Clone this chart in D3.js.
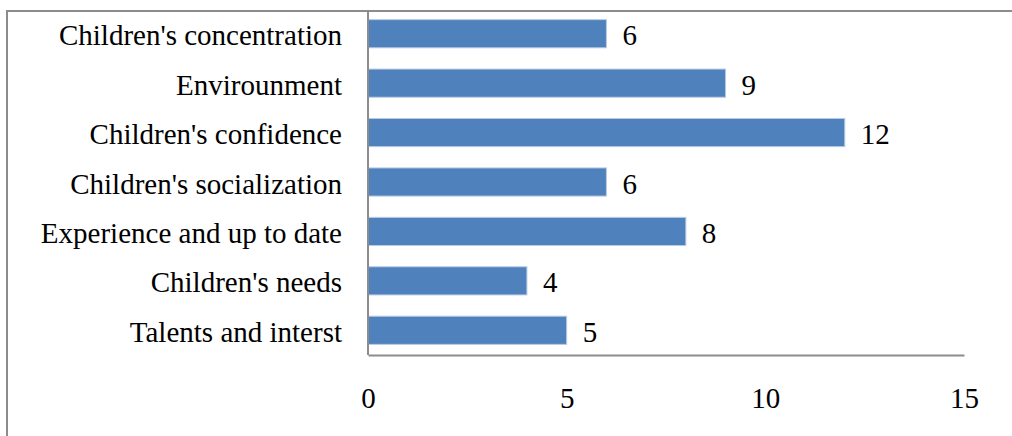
<!DOCTYPE html>
<html>
<head>
<meta charset="utf-8">
<script src="https://cdn.jsdelivr.net/npm/d3@7"></script>
<style>
  body { margin: 0; background: #fff; }
  svg { display: block; }
</style>
</head>
<body>
<div id="graph"></div>
<script>
var categories = ["Children's concentration", "Envirounment", "Children's confidence",
  "Children's socialization", "Experience and up to date", "Children's needs", "Talents and interst"];
var values = [6, 9, 12, 6, 8, 4, 5];
var xTicks = [0, 5, 10, 15];

var W = 1012, H = 436;
var serif = "'Liberation Serif', 'Times New Roman', Times, serif";
// plot area (note: "top" is taken by window.top, so use other names)
var plotLeft = 368, plotRight = 964, plotTop = 9, plotBottom = 355;

var vis = d3.select("#graph")
  .append("svg")
  .attr("width", W).attr("height", H);

// outer frame, only the top and left edges are in view
vis.append("rect")
  .attr("x", 7).attr("y", 11)
  .attr("width", W + 20).attr("height", H + 20)
  .attr("fill", "none")
  .attr("stroke", "#8c8c8c")
  .attr("stroke-width", 2);

var x = d3.scaleLinear().domain([0, 15]).range([plotLeft, plotRight]);
var y = d3.scaleBand().domain(categories).range([plotTop, plotBottom]).paddingInner(0.43).paddingOuter(0.215);

vis.selectAll("rect.bar")
  .data(values)
  .enter()
  .append("rect")
  .attr("class", "bar")
  .attr("x", x(0))
  .attr("y", function(d, i) { return y(categories[i]); })
  .attr("width", function(d) { return x(d) - x(0); })
  .attr("height", y.bandwidth())
  .attr("fill", "#4f81bd")
  .attr("stroke", "#b9cce4")
  .attr("stroke-width", 1);

vis.selectAll("text.val")
  .data(values)
  .enter()
  .append("text")
  .attr("class", "val")
  .attr("x", function(d) { return x(d) + 16; })
  .attr("y", function(d, i) { return y(categories[i]) + y.bandwidth() / 2; })
  .attr("dy", "0.4em")
  .attr("font-family", serif)
  .attr("font-size", 29)
  .attr("fill", "#000")
  .text(function(d) { return d; });

// category labels
var yAxis = vis.append("g")
  .attr("transform", "translate(" + plotLeft + ",0)")
  .call(d3.axisLeft(y).tickSize(0).tickPadding(26));
yAxis.attr("font-family", serif).attr("font-size", 29);
yAxis.select(".domain").attr("stroke", "#8c8c8c").attr("stroke-width", 2)
  .attr("d", "M0,11V" + plotBottom);
yAxis.selectAll("text").attr("dy", "0.4em").attr("fill", "#000");

var xAxis = vis.append("g")
  .attr("transform", "translate(0," + plotBottom + ")")
  .call(d3.axisBottom(x).tickValues(xTicks).tickSize(0).tickPadding(32));
xAxis.attr("font-family", serif).attr("font-size", 29);
xAxis.select(".domain").attr("stroke", "#8c8c8c").attr("stroke-width", 2);
xAxis.selectAll("text").attr("fill", "#000");
</script>
</body>
</html>
